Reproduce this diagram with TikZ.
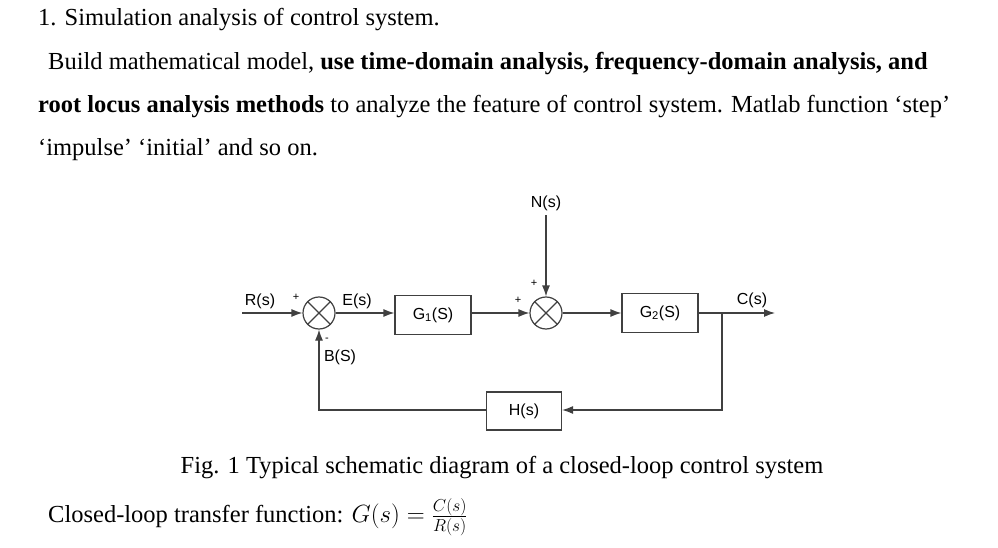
\documentclass[tikz,border=0pt]{standalone}
\usepackage{fontspec}
\setmainfont{Liberation Serif}
\newfontfamily\diagfont{Liberation Sans}
\usetikzlibrary{arrows.meta}
\begin{document}
\begin{tikzpicture}[x=1pt,y=-1pt]
\tikzset{txt/.style={anchor=west, inner sep=0pt, font=\fontsize{24.5}{28}\selectfont},
lbl/.style={inner sep=0pt, font=\diagfont\fontsize{16}{18}\selectfont},
sgn/.style={inner sep=0pt, font=\diagfont\fontsize{11}{12}\selectfont},
blk/.style={draw=black!75, line width=1.2pt, minimum width=76pt, minimum height=39pt, inner sep=0pt, font=\diagfont\fontsize{16}{18}\selectfont},
sum/.style={circle, draw=black!75, line width=1.2pt, minimum size=32pt, inner sep=0pt},
f/.style={-{Latex[length=11pt,width=8pt]}, line width=1.2pt, draw=black!75}};
\useasboundingbox (0,0) rectangle (998,548);

% text above
\node[txt] (l1) at (38,20) {1. Simulation analysis of control system.};
\node[txt] (l2) at (48,64) {Build mathematical model, \textbf{use time-domain analysis, frequency-domain analysis, and}};
\node[txt] (l3) at (38,107) {\textbf{root locus analysis methods} to analyze the feature of control system. Matlab function `step'};
\node[txt] (l4) at (38,150) {`impulse' `initial' and so on.};

% diagram
\node[sum] (s1) at (319,313) {};
\node[sum] (s2) at (546,313) {};
\node[blk] (g1) at (433,315) {G\textsubscript{1}(S)};
\node[blk] (g2) at (660,313) {G\textsubscript{2}(S)};
\node[blk, minimum width=75pt, minimum height=38pt] (h) at (524,411) {H(s)};
\foreach \s in {s1,s2} {
	\draw[black!75, line width=1.2pt] (\s.north west) -- (\s.south east);
	\draw[black!75, line width=1.2pt] (\s.north east) -- (\s.south west);
}
\coordinate (in) at (242,313);
\coordinate (top) at (546,215);
\coordinate (br) at (722,313);
\coordinate (out) at (775,313);
\coordinate (bl) at (319,410);
\coordinate (brd) at (722,410);

\draw[f] (in) -- (s1);
\draw[f] (s1) -- (g1.west |- s1);
\draw[f] (g1.east |- s2) -- (s2);
\draw[f] (top) -- (s2);
\draw[f] (s2) -- (g2);
\draw[f] (g2) -- (out);
\draw[f] (br) -- (brd) -- (h.east |- brd);
\draw[f] (h.west |- bl) -- (bl) -- (s1);

\node[lbl] (rs) at (260,301) {R(s)};
\node[lbl] (es) at (357,301) {E(s)};
\node[lbl] (ns) at (546,203) {N(s)};
\node[lbl] (cs) at (752,300) {C(s)};
\node[lbl] (bs) at (340,357) {B(S)};
\node[sgn] (p1) at (296,297) {+};
\node[sgn] (m1) at (327,340) {-};
\node[sgn] (p2) at (518,300) {+};
\node[sgn] (p3) at (534,283) {+};

% caption and formula
\node[inner sep=0pt, font=\fontsize{24.5}{28}\selectfont] (cap) at (502,468) {Fig. 1 Typical schematic diagram of a closed-loop control system};
\node[txt] (tf) at (48,517) {Closed-loop transfer function: $G(s)=\frac{C(s)}{R(s)}$};
\end{tikzpicture}
\end{document}
